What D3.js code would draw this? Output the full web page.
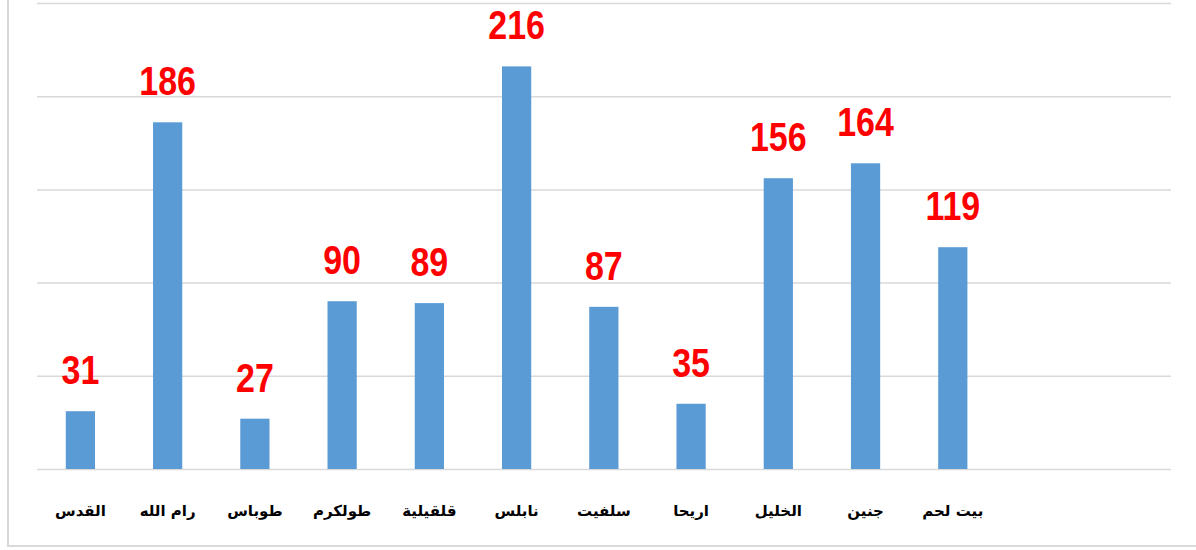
<!DOCTYPE html>
<html>
<head>
<meta charset="utf-8">
<script src="https://cdnjs.cloudflare.com/ajax/libs/d3/7.8.5/d3.min.js"></script>
<style>
  body { margin: 0; background: #fff; }
  svg { display: block; }
</style>
</head>
<body>
<div id="chart"></div>
<script>
// data
var cities = ["القدس", "رام الله", "طوباس", "طولكرم", "قلقيلية", "نابلس", "سلفيت", "اريحا", "الخليل", "جنين", "بيت لحم"];
var counts = [31, 186, 27, 90, 89, 216, 87, 35, 156, 164, 119];
var yTicks = [0, 50, 100, 150, 200, 250];

var W = 1196, H = 550;

var svg = d3.select('#chart').append('svg')
    .attr('width', W)
    .attr('height', H);

svg.append('rect')
    .attr('width', W)
    .attr('height', H)
    .attr('fill', 'white');

// chart frame (only left and bottom edges are visible)
svg.append('rect')
    .attr('x', 8)
    .attr('y', -10)
    .attr('width', W + 10)
    .attr('height', 556)
    .attr('fill', 'none')
    .style('stroke', '#d9d9d9')
    .style('stroke-width', 2);

var plotLeft = 37, plotRight = 1171, plotTop = 3, plotBottom = 469;

var x = d3.scaleBand()
    .domain(cities)
    .range([plotLeft, plotLeft + 11 * 87.2])
    .paddingInner(0.665)
    .paddingOuter(0.33);

var y = d3.scaleLinear()
    .domain([0, 250])
    .range([plotBottom, plotTop]);

// horizontal grid lines
var grid = svg.append('g')
    .attr('class', 'y-grid')
    .attr('transform', 'translate(' + plotLeft + ',0)')
    .call(d3.axisLeft(y).tickValues(yTicks).tickSize(-(plotRight - plotLeft)).tickFormat(''));
grid.select('.domain').remove();
grid.selectAll('line')
    .style('stroke', '#d9d9d9')
    .style('stroke-width', 1.5);

// bars
svg.append('g').selectAll('rect')
    .data(counts)
    .enter().append('rect')
    .attr('x', function (d, i) { return x(cities[i]); })
    .attr('y', function (d) { return y(d); })
    .attr('width', x.bandwidth())
    .attr('height', function (d) { return y(0) - y(d); })
    .attr('fill', '#5b9bd5');

// value labels
svg.append('g').selectAll('text')
    .data(counts)
    .enter().append('text')
    .attr('transform', function (d, i) {
        return 'translate(' + (x(cities[i]) + x.bandwidth() / 2) + ',' + (y(d) - 27) + ') scale(1,1.18)';
    })
    .attr('text-anchor', 'middle')
    .style('font-family', '"Liberation Sans", Arial, sans-serif')
    .style('font-weight', 'bold')
    .style('font-size', '34px')
    .style('fill', '#ff0000')
    .text(function (d) { return d; });

// category axis
var xAxis = svg.append('g')
    .attr('class', 'x-axis')
    .attr('transform', 'translate(0,' + plotBottom + ')')
    .call(d3.axisBottom(x).tickSize(0).tickPadding(36));
xAxis.select('.domain').remove();
xAxis.selectAll('text')
    .style('font-family', '"DejaVu Sans", sans-serif')
    .style('font-weight', 'bold')
    .style('font-size', '15px')
    .style('fill', '#000');
</script>
</body>
</html>
